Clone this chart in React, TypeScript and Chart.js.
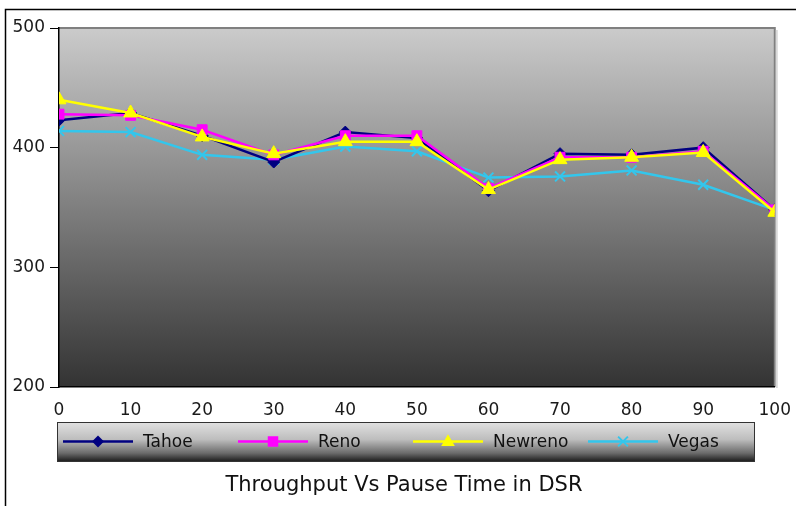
import React, { useEffect, useRef } from "react";
import { Chart, registerables } from "chart.js";

Chart.register(...registerables);

const pauseTimes = [0, 10, 20, 30, 40, 50, 60, 70, 80, 90, 100];
const tahoe = [423, 429, 410, 388, 413, 408, 364, 395, 394, 400, 348];
const reno = [428, 427, 415, 394, 410, 410, 366, 392, 392, 397, 348];
const newreno = [440, 429, 409, 395, 405, 405, 365, 390, 392, 396, 346];
const vegas = [414, 413, 394, 390, 401, 397, 375, 376, 381, 369, 348];
const seriesNames = ["Tahoe", "Reno", "Newreno", "Vegas"];
const seriesColors = ["#000080", "#ff00ff", "#ffff00", "#33c6ec"];
const pointStyles = ["rectRot", "rect", "triangle", "crossRot"];
const pointRadii = [6, 7, 8, 7];
const yTicks = [200, 300, 400, 500];
const titleText = "Throughput Vs Pause Time in DSR";

function drawMarker(ctx: CanvasRenderingContext2D, style: string, x: number, y: number, r: number, color: string) {
  ctx.save();
  ctx.fillStyle = color;
  ctx.strokeStyle = color;
  ctx.lineWidth = 2;
  ctx.beginPath();
  if (style === "rectRot") {
    ctx.moveTo(x, y - r);
    ctx.lineTo(x + r, y);
    ctx.lineTo(x, y + r);
    ctx.lineTo(x - r, y);
    ctx.closePath();
    ctx.fill();
  } else if (style === "rect") {
    const s = r * 0.75;
    ctx.rect(x - s, y - s, 2 * s, 2 * s);
    ctx.fill();
  } else if (style === "triangle") {
    ctx.moveTo(x, y - r * 0.9);
    ctx.lineTo(x + r * 0.85, y + r * 0.55);
    ctx.lineTo(x - r * 0.85, y + r * 0.55);
    ctx.closePath();
    ctx.fill();
  } else {
    const s = r * 0.7;
    ctx.moveTo(x - s, y - s);
    ctx.lineTo(x + s, y + s);
    ctx.moveTo(x + s, y - s);
    ctx.lineTo(x - s, y + s);
    ctx.stroke();
  }
  ctx.restore();
}

const decorPlugin = {
  id: "decor",
  beforeDraw(chart: any) {
    const { ctx, chartArea } = chart;
    const { left, top, right, bottom } = chartArea;
    ctx.save();
    ctx.strokeStyle = "#000";
    ctx.lineWidth = 1.5;
    ctx.beginPath();
    ctx.moveTo(5.5, 506);
    ctx.lineTo(5.5, 9.5);
    ctx.lineTo(796, 9.5);
    ctx.stroke();
    const g = ctx.createLinearGradient(0, top, 0, bottom);
    g.addColorStop(0, "#cbcbcb");
    g.addColorStop(1, "#333333");
    ctx.fillStyle = g;
    ctx.fillRect(left, top, right - left, bottom - top);
    ctx.strokeStyle = "#808080";
    ctx.lineWidth = 2;
    ctx.beginPath();
    ctx.moveTo(left, top);
    ctx.lineTo(right, top);
    ctx.lineTo(right, bottom);
    ctx.stroke();
    ctx.strokeStyle = "#d8d8d8";
    ctx.lineWidth = 2;
    ctx.beginPath();
    ctx.moveTo(right + 2, top + 2);
    ctx.lineTo(right + 2, bottom + 1);
    ctx.stroke();
    ctx.restore();
  },
  afterDraw(chart: any) {
    const { ctx } = chart;
    ctx.save();
    const lx = 57, ly = 422, lw = 697, lh = 39;
    const lg = ctx.createLinearGradient(0, ly, 0, ly + lh);
    lg.addColorStop(0, "#e2e2e2");
    lg.addColorStop(0.45, "#bdbdbd");
    lg.addColorStop(0.8, "#6a6a6a");
    lg.addColorStop(1, "#202020");
    ctx.fillStyle = lg;
    ctx.fillRect(lx, ly, lw, lh);
    ctx.strokeStyle = "#333";
    ctx.lineWidth = 1;
    ctx.strokeRect(lx + 0.5, ly + 0.5, lw, lh);
    const cy = ly + lh / 2;
    chart.data.datasets.forEach((ds: any, i: number) => {
      const x0 = 63 + i * 175;
      ctx.strokeStyle = ds.borderColor;
      ctx.lineWidth = 2.5;
      ctx.beginPath();
      ctx.moveTo(x0, cy);
      ctx.lineTo(x0 + 70, cy);
      ctx.stroke();
      drawMarker(ctx, pointStyles[i], x0 + 35, cy, pointRadii[i], ds.borderColor);
      ctx.fillStyle = "#111";
      ctx.font = "17px 'DejaVu Sans'";
      ctx.textAlign = "left";
      ctx.textBaseline = "middle";
      ctx.fillText(ds.label, x0 + 80, cy + 1);
    });
    ctx.fillStyle = "#111";
    ctx.font = "21px 'DejaVu Sans'";
    ctx.textAlign = "center";
    ctx.textBaseline = "middle";
    ctx.fillText(titleText, 404, 486);
    ctx.restore();
  },
};

export default function App() {
  const ref = useRef<HTMLCanvasElement>(null);
  useEffect(() => {
    const allSeries = [tahoe, reno, newreno, vegas];
    const drawOrder = [2, 1, 0, 3];
    const chart = new Chart(ref.current!, {
      type: "line",
      data: {
        datasets: allSeries.map((vals, i) => ({
          label: seriesNames[i],
          data: vals.map((v, j) => ({ x: pauseTimes[j], y: v })),
          borderColor: seriesColors[i],
          backgroundColor: seriesColors[i],
          borderWidth: 2.5,
          pointStyle: pointStyles[i] as any,
          pointRadius: pointRadii[i],
          pointBorderWidth: i === 3 ? 2 : 1,
          pointBorderColor: seriesColors[i],
          pointBackgroundColor: seriesColors[i],
          tension: 0,
          fill: false,
          order: drawOrder[i],
        })),
      },
      options: {
        animation: false,
        responsive: false,
        maintainAspectRatio: false,
        layout: { padding: { left: 0, top: 28, right: 16, bottom: 0 } },
        plugins: {
          legend: { display: false },
          title: { display: false },
          tooltip: { enabled: false },
        },
        scales: {
          x: {
            type: "linear",
            min: 0,
            max: 100,
            ticks: {
              stepSize: 10,
              padding: 5,
              color: "#1a1a1a",
              font: { family: "'DejaVu Sans'", size: 17 },
              maxRotation: 0,
            },
            grid: { display: false },
            border: { display: true, color: "#000", width: 1.5 },
            afterFit(scale: any) {
              scale.height = 119;
            },
          },
          y: {
            type: "linear",
            min: 200,
            max: 500,
            afterBuildTicks(scale: any) {
              scale.ticks = yTicks.map((v) => ({ value: v }));
            },
            ticks: {
              padding: 5,
              color: "#1a1a1a",
              font: { family: "'DejaVu Sans'", size: 17 },
            },
            grid: {
              display: true,
              drawOnChartArea: false,
              drawTicks: true,
              tickLength: 9,
              color: "#000",
              lineWidth: 1,
            },
            border: { display: true, color: "#000", width: 1.5 },
            afterFit(scale: any) {
              scale.width = 59;
            },
          },
        },
      },
      plugins: [decorPlugin],
    });
    return () => chart.destroy();
  }, []);
  return (
    <div style={{ position: "absolute", left: 0, top: 0, width: 796, height: 506, background: "#fff" }}>
      <canvas ref={ref} width={796} height={506} style={{ width: 796, height: 506, display: "block" }} />
    </div>
  );
}
